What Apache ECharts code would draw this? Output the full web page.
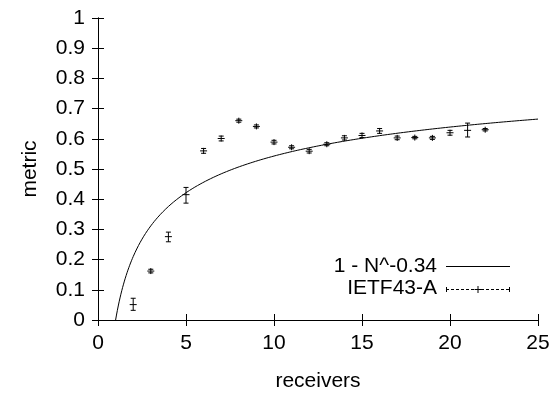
<!DOCTYPE html>
<html>
<head>
<meta charset="utf-8">
<script src="https://cdn.jsdelivr.net/npm/echarts@6/dist/echarts.min.js"></script>
<style>
html,body{margin:0;padding:0;background:#fff;}
#c{width:558px;height:397px;}
</style>
</head>
<body>
<div id="c"></div>
<script>
// ---- data ----
const receivers = [2,3,4,5,6,7,8,9,10,11,12,13,14,15,16,17,18,19,20,21,22];
const metric    = [0.051,0.162,0.276,0.415,0.560,0.601,0.660,0.641,0.589,0.572,0.559,0.582,0.603,0.611,0.626,0.603,0.604,0.603,0.620,0.628,0.630];
const errLow    = [0.032,0.156,0.259,0.387,0.552,0.593,0.655,0.636,0.583,0.567,0.553,0.577,0.596,0.604,0.618,0.597,0.600,0.598,0.612,0.606,0.626];
const errHigh   = [0.072,0.168,0.291,0.439,0.568,0.609,0.665,0.646,0.595,0.577,0.565,0.587,0.610,0.618,0.634,0.609,0.608,0.608,0.628,0.652,0.634];
const fitExponent = 0.34;
const xTicks = {min:0, max:25, interval:5};
const yTicks = {min:0, max:1, interval:0.1};
const seriesNames = ['1 - N^-0.34', 'IETF43-A'];
const axisNames = {x:'receivers', y:'metric'};

// fitted curve sampled over the x-range (the plotted function itself)
const curve = [];
for (let i = 0; i <= 480; i++) {
  const n = 1 + i * (xTicks.max - 1) / 480;
  curve.push([n, 1 - Math.pow(n, -fitExponent)]);
}
const errData = receivers.map((r, i) => [r, metric[i], errLow[i], errHigh[i]]);

const FONT = 'Liberation Sans, Arial, sans-serif';
const FS = 21;
const chart = echarts.init(document.getElementById('c'), null, {renderer:'canvas'});

const axisCommon = {
  type:'value',
  axisLine:{show:true, lineStyle:{color:'#000', width:1}},
  axisTick:{show:true, inside:true, length:6, lineStyle:{color:'#000'}},
  splitLine:{show:false},
};

chart.setOption({
  animation:false,
  backgroundColor:'#fff',
  grid:{left:98, right:20, top:18, bottom:69, containLabel:false},
  xAxis:[
    Object.assign({}, axisCommon, {position:'bottom', min:xTicks.min, max:xTicks.max, interval:xTicks.interval,
      name:axisNames.x, nameLocation:'middle', nameGap:51,
      nameTextStyle:{color:'#000', fontFamily:FONT, fontSize:FS},
      axisLabel:{color:'#000', fontFamily:FONT, fontSize:FS, margin:13}}),
    Object.assign({}, axisCommon, {position:'top', min:xTicks.min, max:xTicks.max, interval:xTicks.interval,
      axisLabel:{show:false}})
  ],
  yAxis:[
    Object.assign({}, axisCommon, {position:'left', min:yTicks.min, max:yTicks.max, interval:yTicks.interval,
      name:axisNames.y, nameLocation:'middle', nameGap:57, nameRotate:90,
      nameTextStyle:{color:'#000', fontFamily:FONT, fontSize:FS},
      axisLabel:{color:'#000', fontFamily:FONT, fontSize:FS, margin:13}}),
    Object.assign({}, axisCommon, {position:'right', min:yTicks.min, max:yTicks.max, interval:yTicks.interval,
      axisLabel:{show:false}})
  ],
  series:[
    {
      name:seriesNames[0], type:'line', data:curve, showSymbol:false, symbol:'none',
      lineStyle:{color:'#000', width:1}, xAxisIndex:0, yAxisIndex:0, silent:true
    },
    {
      name:seriesNames[1], type:'custom', data:errData, xAxisIndex:0, yAxisIndex:0,
      renderItem:function(params, api){
        const x = api.value(0);
        const c = api.coord([x, api.value(1)]);
        const lo = api.coord([x, api.value(2)]);
        const hi = api.coord([x, api.value(3)]);
        const st = {stroke:'#000', lineWidth:1};
        const top = Math.min(hi[1], c[1]-3);
        const bot = Math.max(lo[1], c[1]+3);
        return {type:'group', children:[
          {type:'line', shape:{x1:c[0], y1:top, x2:c[0], y2:bot}, style:st},
          {type:'line', shape:{x1:c[0]-3.5, y1:c[1], x2:c[0]+3.5, y2:c[1]}, style:st},
          {type:'line', shape:{x1:c[0]-2.5, y1:hi[1], x2:c[0]+2.5, y2:hi[1]}, style:st},
          {type:'line', shape:{x1:c[0]-2.5, y1:lo[1], x2:c[0]+2.5, y2:lo[1]}, style:st}
        ]};
      }
    }
  ],
  graphic:[
    {type:'text', right:558-437, top:256, style:{text:seriesNames[0], fill:'#000', font:FS+'px '+FONT, textAlign:'right'}},
    {type:'line', shape:{x1:446, y1:266.5, x2:510, y2:266.5}, style:{stroke:'#000', lineWidth:1}},
    {type:'text', right:558-437, top:278, style:{text:seriesNames[1], fill:'#000', font:FS+'px '+FONT, textAlign:'right'}},
    {type:'line', shape:{x1:446, y1:289.5, x2:510, y2:289.5}, style:{stroke:'#000', lineWidth:1, lineDash:[3,2]}},
    {type:'line', shape:{x1:446.5, y1:287, x2:446.5, y2:292}, style:{stroke:'#000', lineWidth:1}},
    {type:'line', shape:{x1:509.5, y1:287, x2:509.5, y2:292}, style:{stroke:'#000', lineWidth:1}},
    {type:'line', shape:{x1:478, y1:286, x2:478, y2:293}, style:{stroke:'#000', lineWidth:1}},
    {type:'line', shape:{x1:474.5, y1:289.5, x2:481.5, y2:289.5}, style:{stroke:'#000', lineWidth:1}}
  ]
});
</script>
</body>
</html>
